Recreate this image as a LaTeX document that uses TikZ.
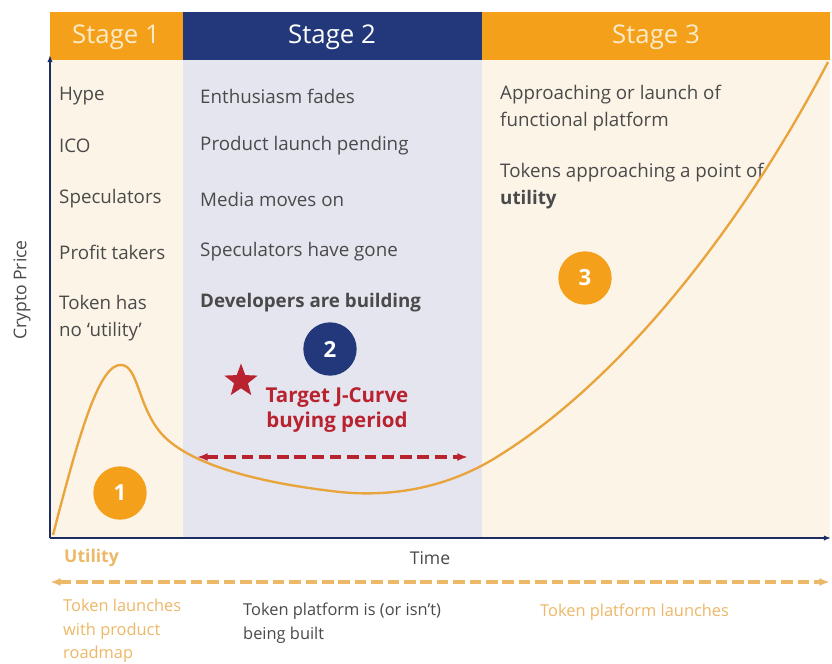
\documentclass[tikz,border=0pt]{standalone}
\usepackage{fontspec}
\setmainfont{Open Sans}
\usetikzlibrary{arrows.meta,shapes.geometric}

\definecolor{stageorange}{HTML}{F5A01A}
\definecolor{stagenavy}{HTML}{23387A}
\definecolor{peach}{HTML}{FDF4E8}
\definecolor{lavender}{HTML}{E5E5F0}
\definecolor{curvegold}{HTML}{E9A43C}
\definecolor{targetred}{HTML}{B8232F}
\definecolor{bodygray}{HTML}{4A4A4A}
\definecolor{paleorange}{HTML}{EDB867}
\definecolor{headcream}{HTML}{FCEBC8}

\tikzset{
  header/.style={font=\fontsize{22}{26}\selectfont},
  item/.style={anchor=west, align=left, text=bodygray, inner sep=0pt,
    font=\fontsize{16}{23}\selectfont},
  badge/.style={circle, minimum size=16mm, inner sep=0pt, text=white,
    font=\fontsize{19}{22}\selectfont\bfseries},
  note/.style={anchor=north west, align=left, inner sep=0pt,
    font=\fontsize{14}{20}\selectfont},
}

\begin{document}
\begin{tikzpicture}[x=0.3mm, y=-0.3mm]

   \useasboundingbox[fill=white] (0,0) rectangle (832,663);

   % stage panels
   \fill [peach] (50,60) rectangle (183,538);
   \fill [lavender] (183,60) rectangle (482,538);
   \fill [peach] (482,60) rectangle (830,538);

   \fill [stageorange] (50,12) rectangle (183,60);
   \fill [stagenavy] (183,12) rectangle (482,60);
   \fill [stageorange] (482,12) rectangle (830,60);

   \node (Stage1) at (116,37) [header, text=headcream] {Stage 1};
   \node (Stage2) at (332,37) [header, text=white] {Stage 2};
   \node (Stage3) at (656,37) [header, text=headcream] {Stage 3};

   % axes
   \coordinate (origin) at (50,538);
   \coordinate (ytop) at (50,55);
   \coordinate (xend) at (831,538);
   \draw [stagenavy!80!black, line width=1.2pt, -{Latex[length=6pt]}] (origin) -- (ytop);
   \draw [stagenavy!80!black, line width=1.2pt, -{Latex[length=6pt]}] (origin) -- (xend);

   \node (Price) at (22,290) [rotate=90, text=bodygray, font=\fontsize{15}{18}\selectfont] {Crypto Price};
   \node (Time) at (430,558) [text=bodygray, font=\fontsize{15}{18}\selectfont] {Time};
   \node (Utility) at (64,558) [anchor=west, inner sep=0pt, text=paleorange, font=\fontsize{15}{18}\selectfont\bfseries] {Utility};

   % stage 1
   \node (Hype) at (59,96) [item] {Hype};
   \node (ICO) at (59,146) [item] {ICO};
   \node (Spec) at (59,199) [item] {Speculators};
   \node (Profit) at (59,252) [item] {Profit takers};
   \node (NoUtility) at (59,318) [item] {Token has\\no `utility'};

   % stage 2
   \node (Fades) at (200,96) [item] {Enthusiasm fades};
   \node (Pending) at (200,146) [item] {Product launch pending};
   \node (Media) at (200,199) [item] {Media moves on};
   \node (Gone) at (200,252) [item] {Speculators have gone};
   \node (Devs) at (200,303) [item, font=\fontsize{16}{23}\selectfont\bfseries] {Developers are building};

   % stage 3
   \node (Approach) at (500,108) [item] {Approaching or launch of\\functional platform};
   \node (Tokens) at (500,186) [item] {Tokens approaching a point of\\\textbf{utility}};

   % price curve
   \draw [curvegold, line width=2pt] (53,535)
     .. controls (80,430) and (100,362) .. (122,365)
     .. controls (138,367) and (138,405) .. (160,432)
     .. controls (185,462) and (250,482) .. (340,492)
     .. controls (400,498) and (455,484) .. (500,455)
     .. controls (620,380) and (740,230) .. (828,62);

   % badges
   \node (One) at (120,493) [badge, fill=stageorange] {1};
   \node (Two) at (330,349) [badge, fill=stagenavy] {2};
   \node (Three) at (585,278) [badge, fill=stageorange] {3};

   % buying period
   \node (Star) at (241,381) [star, star points=5, star point ratio=2.4, fill=targetred, minimum size=10.5mm, inner sep=0pt] {};
   \node (Target) at (337,410) [align=center, text=targetred, font=\fontsize{17.5}{22}\selectfont\bfseries] {Target J-Curve\\buying period};
   \coordinate (BuyStart) at (197,457);
   \coordinate (BuyEnd) at (468,457);
   \draw [targetred, line width=3pt, dash pattern=on 10pt off 5pt, {Latex[length=9pt]}-{Latex[length=9pt]}] (BuyStart) -- (BuyEnd);

   % utility timeline
   \coordinate (UtilStart) at (50,582);
   \coordinate (UtilEnd) at (830,582);
   \draw [paleorange, line width=3pt, dash pattern=on 10pt off 4pt, {Latex[length=9pt]}-{Latex[length=9pt]}] (UtilStart) -- (UtilEnd);

   \node (Launches) at (63,599) [note, text=paleorange] {Token launches\\with product\\roadmap};
   \node (Built) at (243,603) [note, text=bodygray] {Token platform is (or isn't)\\being built};
   \node (Platform) at (540,604) [note, text=paleorange] {Token platform launches};

\end{tikzpicture}
\end{document}
